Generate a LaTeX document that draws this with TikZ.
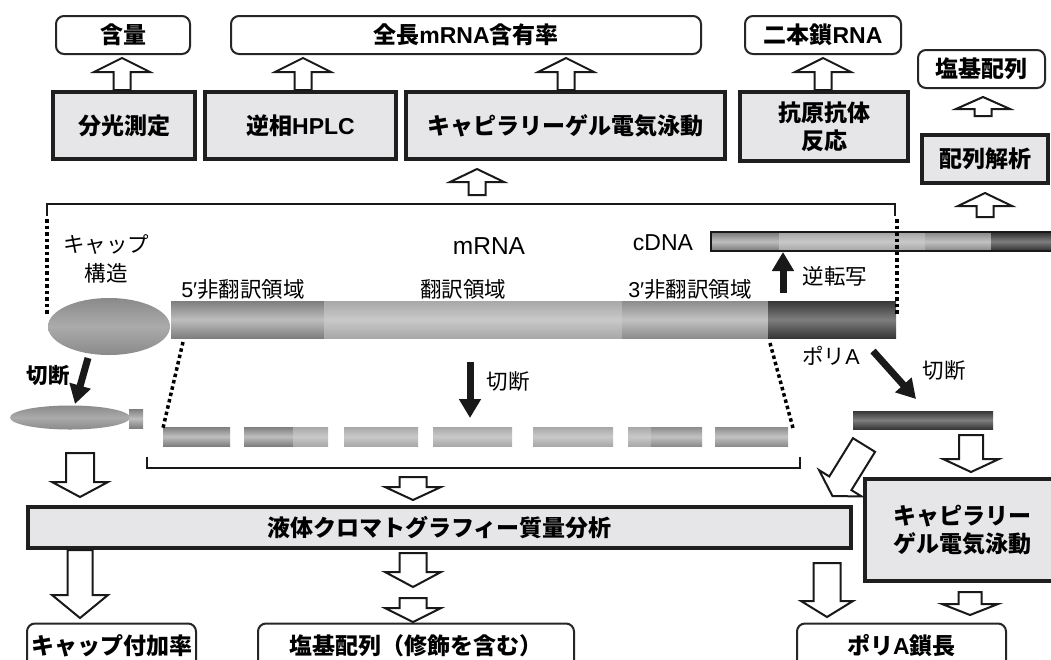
\documentclass[tikz,border=0pt]{standalone}
\usepackage{fontspec}
\setmainfont{Liberation Sans}
\newfontfamily\jp{Noto Sans CJK JP}
\usetikzlibrary{shapes.geometric,arrows.meta}
\definecolor{boxgray}{HTML}{E6E6E8}
\definecolor{uA}{HTML}{7E7E7E}\definecolor{uB}{HTML}{BEBEBE}
\definecolor{cA}{HTML}{A8A8A8}\definecolor{cB}{HTML}{C9C9C9}
\definecolor{tA}{HTML}{8C8C8C}\definecolor{tB}{HTML}{C2C2C2}
\definecolor{pA}{HTML}{363636}\definecolor{pB}{HTML}{7E7E7E}
\definecolor{capA}{HTML}{8A8A8A}\definecolor{capB}{HTML}{ABABAB}
\newcommand\myB{\jp\bfseries\fontsize{23}{28}\selectfont}
\newcommand\myR{\jp\fontsize{21.5}{25}\selectfont}
\newcommand\lat[1]{{\rmfamily #1}}
% x, y (tail centre), angle, length, head length, shaft half width, head half width
\newcommand\fatarrow[7]{%
  \begin{scope}[shift={(#1,#2)},rotate=#3]
    \draw[blockarr] (0,-#6) -- ({#4-#5},-#6) -- ({#4-#5},-#7) -- (#4,0)
      -- ({#4-#5},#7) -- ({#4-#5},#6) -- (0,#6) -- cycle;
  \end{scope}}
\begin{document}
\begin{tikzpicture}[x=1pt,y=-1pt,
  graybox/.style={draw=black!88,line width=4pt,fill=boxgray,inner sep=0pt,align=center,font=\myB},
  whitebox/.style={draw=black!85,line width=2pt,rounded corners=8pt,fill=white,inner sep=0pt,font=\myB},
  blockarr/.style={draw=black!90,line width=2pt,fill=white,line join=miter},
  solidarr/.style={line width=7pt,black!90,-{Triangle[length=19pt,width=21pt]}},
  dotline/.style={line width=3.5pt,dash pattern=on 3.5pt off 3pt,black},
  bracket/.style={line width=2.5pt,black!90},
  lbl/.style={inner sep=0pt,font=\myR},
  utrfive/.style={top color=uA,bottom color=uA,middle color=uB},
  cds/.style={top color=cA,bottom color=cA,middle color=cB},
  utrthree/.style={top color=tA,bottom color=tA,middle color=tB},
  polya/.style={top color=pA,bottom color=pA,middle color=pB},
]
\useasboundingbox (0,0) rectangle (1051,659);
\clip (0,0) rectangle (1051,659);
\fill[white] (0,0) rectangle (1051,659);

% ---------- top result boxes ----------
\node[whitebox,minimum width=134,minimum height=38] (ganryo) at (123,35) {含量};
\node[whitebox,minimum width=470,minimum height=38] (zencho) at (466,35) {全長\lat{mRNA}含有率};
\node[whitebox,minimum width=156,minimum height=38] (nihon) at (823,35) {二本鎖\lat{RNA}};
\node[whitebox,minimum width=127,minimum height=38] (enki) at (981.5,69) {塩基配列};

% ---------- method boxes ----------
\node[graybox,minimum width=142,minimum height=67] (spec) at (124,125.5) {分光測定};
\node[graybox,minimum width=191,minimum height=67] (hplc) at (300.5,125.5) {逆相\lat{HPLC}};
\node[graybox,minimum width=319,minimum height=67] (cgea) at (565.5,125.5) {キャピラリーゲル電気泳動};
\node[graybox,minimum width=168,minimum height=69] (ag) at (824,126.5) {抗原抗体\\反応};
\node[graybox,minimum width=126,minimum height=48] (seqan) at (985,159) {配列解析};

% ---------- up block arrows (top) ----------
\fatarrow{122}{90}{90}{32}{14}{8.5}{28}
\fatarrow{303}{90}{90}{32}{14}{8.5}{28}
\fatarrow{566}{90}{90}{32}{14}{8.5}{28}
\fatarrow{823}{90}{90}{32}{14}{8.5}{28}
\fatarrow{983}{116}{90}{19}{12}{8.5}{27}
\fatarrow{477}{195}{90}{26}{13}{8.5}{27}
\fatarrow{985}{217}{90}{24}{13}{8.5}{27}

% ---------- mRNA ----------
\shade[utrfive] (171,301) rectangle (324,338);
\shade[cds] (324,301) rectangle (622,338);
\shade[utrthree] (622,301) rectangle (768,338);
\shade[polya] (768,301) rectangle (896,338);
\node[ellipse,minimum width=122,minimum height=57,inner sep=0pt,top color=capA,bottom color=capA,middle color=capB] (cap) at (109,326.5) {};

% cDNA
\shade[utrfive] (712,233) rectangle (779,250);
\shade[cds] (779,233) rectangle (925,250);
\shade[utrthree] (925,233) rectangle (991,250);
\shade[polya] (991,233) rectangle (1060,250);
\draw[line width=2pt,black!90] (711,232) rectangle (1062,251);
\node[inner sep=0pt,font=\fontsize{23}{26}\selectfont] (cdna) at (663,243) {cDNA};

% bracket and dotted guides
\draw[bracket] (47,216) -- (47,204) -- (895,204) -- (895,216);
\draw[dotline] (47,219) -- (47,316);
\draw[dotline] (897,219) -- (897,316);

% labels on mRNA
\node[inner sep=0pt,font=\fontsize{24.5}{27}\selectfont] (mrna) at (489,246) {mRNA};
\node[lbl] (capl1) at (106,245) {キャップ};
\node[lbl] (capl2) at (106,273) {構造};
\node[lbl] (u5l) at (243,289) {\lat{5′}非翻訳領域};
\node[lbl] (cdsl) at (463,289) {翻訳領域};
\node[lbl] (u3l) at (690,289) {\lat{3′}非翻訳領域};
\node[lbl] (rtl) at (835,276) {逆転写};
\node[lbl] (pal) at (831,356) {ポリ\lat{A}};

% reverse transcription arrow
\coordinate (rts) at (783,293);
\coordinate (rte) at (783,252);
\draw[solidarr] (rts) -- (rte);

% ---------- cleavage ----------
\coordinate (c1s) at (88,358);
\coordinate (c1e) at (75,404);
\draw[solidarr] (c1s) -- (c1e);
\node[inner sep=0pt,font=\jp\bfseries\fontsize{21.5}{25}\selectfont] (cut1) at (48,376) {切断};

\coordinate (c2s) at (470,362);
\coordinate (c2e) at (470,418);
\draw[solidarr] (c2s) -- (c2e);
\node[lbl] (cut2) at (508,381) {切断};

\coordinate (c3s) at (873,351);
\coordinate (c3e) at (916,399);
\draw[solidarr] (c3s) -- (c3e);
\node[lbl] (cut3) at (944,370) {切断};

% cap fragment
\node[ellipse,minimum width=120,minimum height=24,inner sep=0pt,top color=capA,bottom color=capA,middle color=capB] (capf) at (70,417.5) {};
\shade[utrfive] (129,409) rectangle (143,428);

% poly A fragment
\shade[polya] (853,411) rectangle (993,429);

% fragments
\shade[utrfive] (163,427) rectangle (230,446);
\shade[utrfive] (244,427) rectangle (293,446);
\shade[cds] (293,427) rectangle (328,446);
\shade[cds] (344,427) rectangle (418,446);
\shade[cds] (433,427) rectangle (512,446);
\shade[cds] (533,427) rectangle (613,446);
\shade[cds] (628,427) rectangle (651,446);
\shade[utrthree] (651,427) rectangle (702,446);
\shade[utrthree] (715,427) rectangle (788,446);

\draw[dotline] (183,342) -- (163,428);
\draw[dotline] (770,343) -- (793,428);

% bottom bracket
\draw[bracket] (147,457) -- (147,468) -- (800,468) -- (800,457);

% ---------- analysis boxes ----------
\node[graybox,minimum width=823,minimum height=41] (lcms) at (439.5,527.5) {液体クロマトグラフィー質量分析};
\node[graybox,minimum width=195,minimum height=102] (cgeb) at (962.5,530) {キャピラリー\\ゲル電気泳動};

% down arrows
\fatarrow{80}{453}{-90}{44}{15}{14}{28}
\fatarrow{413}{477}{-90}{23}{13}{13.5}{28}
\fatarrow{971}{435}{-90}{37}{13}{12}{28}
\fatarrow{864}{445}{238.3}{60}{15}{13}{25}
\fatarrow{80}{550}{-90}{68}{23}{12.5}{28}
\fatarrow{413}{553}{-90}{34}{15}{13.5}{28}
\fatarrow{413}{598}{-90}{24}{14}{13.5}{28}
\fatarrow{827}{563}{-90}{54}{16}{13.5}{26}
\fatarrow{970}{592}{-90}{23}{11}{11.5}{28}

% ---------- bottom result boxes ----------
\node[whitebox,minimum width=169,minimum height=45] (caprate) at (111.5,646) {キャップ付加率};
\node[whitebox,minimum width=316,minimum height=45] (enki2) at (416,646) {塩基配列（修飾を含む）};
\node[whitebox,minimum width=209,minimum height=45] (palen) at (901.5,646) {ポリ\lat{A}鎖長};
\end{tikzpicture}
\end{document}
